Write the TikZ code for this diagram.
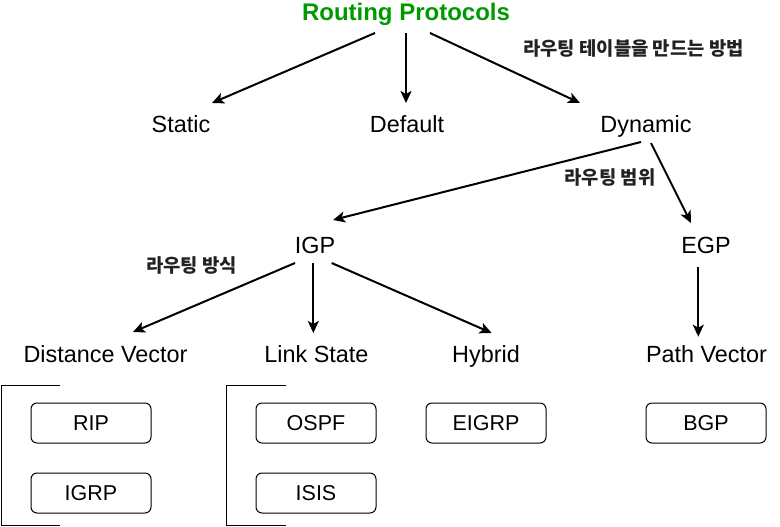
\documentclass[tikz,border=0pt]{standalone}
\usepackage{fontspec}
\setmainfont{Liberation Sans}
\newfontfamily\kr{Noto Sans CJK KR}
\usetikzlibrary{calc,arrows.meta}
\definecolor{titlegreen}{RGB}{0,153,0}
\definecolor{labelgray}{RGB}{34,34,34}
\begin{document}
\begin{tikzpicture}[x=1pt,y=-1pt,
  lbl/.style={anchor=base,inner sep=0pt,font=\fontsize{23.4}{27}\selectfont},
  ttl/.style={anchor=base,inner sep=0pt,text=titlegreen,font=\fontsize{24}{28}\selectfont\bfseries},
  krlbl/.style={inner sep=0pt,text=labelgray,font=\kr\bfseries\fontsize{18.8}{22}\selectfont},
  protobox/.style={draw,rounded corners=6pt,line width=1pt,minimum width=120pt,minimum height=40pt,inner sep=0pt,font=\fontsize{21.5}{25}\selectfont},
  arr/.style={line width=2pt,-{Stealth[length=12pt,width=11pt,inset=3pt]}},
  bracketline/.style={line width=1pt}]
\useasboundingbox (0,0) rectangle (780,527);

% text nodes
\node[ttl] (title) at (406,21) {Routing Protocols};
\node[lbl] (static) at (181,132) {Static};
\node[lbl] (default) at (407,132) {Default};
\node[lbl] (dynamic) at (646,132) {Dynamic};
\node[lbl] (igp) at (315,253) {IGP};
\node[lbl] (egp) at (706,253) {EGP};
\node[lbl] (dv) at (105.5,362) {Distance Vector};
\node[lbl] (ls) at (316.5,362) {Link State};
\node[lbl] (hybrid) at (486,362) {Hybrid};
\node[lbl] (pv) at (706.5,362) {Path Vector};

% korean labels
\node[krlbl] (lblmake) at (633.5,48) {라우팅 테이블을 만드는 방법};
\node[krlbl] (lblscope) at (610,177.5) {라우팅 범위};
\node[krlbl] (lblway) at (191.5,265) {라우팅 방식};

% protocol boxes
\node[protobox] (rip) at (91,423) {RIP};
\node[protobox] (igrp) at (91,493) {IGRP};
\node[protobox] (ospf) at (316,423) {OSPF};
\node[protobox] (isis) at (316,493) {ISIS};
\node[protobox] (eigrp) at (486,423) {EIGRP};
\node[protobox] (bgp) at (706,423) {BGP};

% brackets
\draw[bracketline] (60,385) -- (1,385) -- (1,525) -- (60,525);
\draw[bracketline] (286,385) -- (226,385) -- (226,525) -- (286,525);

% connectors
\draw[arr] ($(title.base)+(-31,12)$) -- ($(static.base)+(31,-29)$);
\draw[arr] ($(title.base)+(0,12)$) -- ($(default.base)+(-1,-29)$);
\draw[arr] ($(title.base)+(24,12)$) -- ($(dynamic.base)+(-66,-29)$);
\draw[arr] ($(dynamic.base)+(-5,10)$) -- ($(igp.base)+(18,-33)$);
\draw[arr] ($(dynamic.base)+(5,11)$) -- ($(egp.base)+(-15,-30)$);
\draw[arr] ($(igp.base)+(-20,10)$) -- ($(dv.base)+(27.5,-30)$);
\draw[arr] ($(igp.base)+(-1.7,10)$) -- ($(ls.base)+(-3.2,-29)$);
\draw[arr] ($(igp.base)+(16.7,10)$) -- ($(hybrid.base)+(5.7,-29)$);
\draw[arr] ($(egp.base)+(-7.7,13.7)$) -- ($(pv.base)+(-8.2,-25.3)$);
\end{tikzpicture}
\end{document}
